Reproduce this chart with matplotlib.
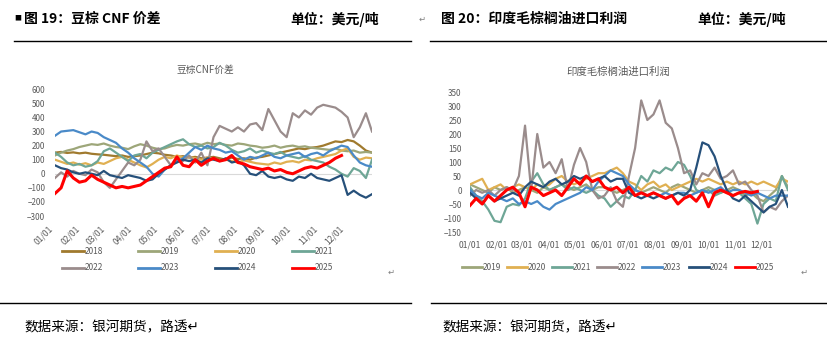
import numpy as np
import matplotlib
matplotlib.use('Agg')
import matplotlib.pyplot as plt
from matplotlib.lines import Line2D

plt.rcParams['font.family'] = ['Noto Sans CJK SC', 'DejaVu Sans']

W, H = 828, 353

# day-of-year grid (weekly readings)
days = np.arange(0, 365, 7)
days_2025 = np.arange(0, 335, 7)

month_ticks = [0, 31, 59, 90, 120, 151, 181, 212, 243, 273, 304, 334]
month_labels = ['01/01', '02/01', '03/01', '04/01', '05/01', '06/01',
                '07/01', '08/01', '09/01', '10/01', '11/01', '12/01']

# ---- 豆棕CNF价差 ----
cnf_2018 = [150, 155, 148, 152, 145, 150, 142, 138, 135, 130, 125, 130, 120,
            125, 130, 140, 150, 145, 135, 130, 120, 125, 115, 120, 110, 115,
            120, 110, 100, 115, 105, 110, 100, 115, 120, 130, 140, 150, 160,
            170, 180, 175, 185, 190, 200, 215, 230, 225, 240, 230, 200, 165, 150]
cnf_2019 = [130, 150, 165, 175, 190, 200, 210, 205, 215, 200, 190, 185, 175,
            195, 210, 200, 185, 175, 180, 195, 205, 200, 210, 215, 205, 220,
            210, 215, 205, 200, 215, 210, 200, 195, 185, 190, 200, 185, 195,
            200, 190, 195, 185, 180, 175, 170, 180, 165, 160, 165, 150, 155, 150]
cnf_2020 = [100, 85, 70, 80, 65, 75, 60, 80, 70, 90, 110, 120, 100,
            80, 60, 45, 70, 100, 120, 110, 130, 115, 120, 110, 100, 115,
            105, 95, 100, 90, 80, 95, 85, 75, 70, 65, 80, 70, 85,
            90, 80, 100, 95, 110, 120, 130, 140, 165, 180, 120, 100, 115, 110]
cnf_2021 = [150, 120, 80, 60, 70, 50, 60, 90, 160, 180, 150, 120, 90,
            130, 140, 110, 150, 170, 190, 210, 230, 245, 210, 190, 200, 180,
            190, 220, 200, 170, 150, 160, 180, 150, 165, 150, 140, 155, 130,
            120, 110, 125, 100, 90, 80, 50, 30, 0, -20, 40, 20, -30, 100]
cnf_2022 = [-30, 10, -20, 20, 0, -10, 30, 10, -60, -100, -40, 20, 80,
            60, 100, 230, 160, 180, 120, 60, 100, 90, 130, 80, 150, 60,
            260, 340, 320, 300, 330, 300, 350, 360, 310, 460, 380, 300, 260,
            430, 400, 450, 420, 470, 490, 480, 470, 440, 400, 260, 330, 430, 300]
cnf_2023 = [270, 300, 305, 310, 295, 280, 300, 290, 260, 240, 220, 180, 150,
            110, 80, 50, 0, -20, 30, 60, 90, 110, 150, 190, 170, 200,
            180, 170, 150, 160, 130, 100, 120, 110, 130, 150, 120, 110, 130,
            140, 150, 120, 140, 150, 130, 160, 180, 200, 190, 130, 80, 60, 50]
cnf_2024 = [60, 40, 30, 10, 0, 10, 0, -10, 20, -10, -20, -30, -10,
            -20, -30, -50, -40, 0, 30, 60, 80, 100, 90, 100, 80, 110,
            100, 90, 110, 80, 90, 60, 0, -10, 20, -20, -30, -20, -40,
            -50, -20, -30, 0, -30, -40, -50, -30, -10, -150, -120, -150, -170, -145]
cnf_2025 = [-140, -100, 20, -30, -60, -50, -10, -40, -60, -80, -100, -90, -100,
            -90, -80, -50, -20, 10, 40, 50, 120, 60, 50, 100, 60, 90,
            110, 90, 100, 130, 80, 70, 50, 40, 30, 40, 20, 30, 10,
            0, 20, 40, 50, 40, 60, 80, 110, 130]

# ---- 印度毛棕榈油进口利润 ----
imp_2019 = [20, 10, 0, -10, 10, 0, 10, -10, 0, 10, 0, -10, 10,
            0, 10, 20, 10, 0, 10, 20, 0, 10, 10, 0, -10, 0,
            10, 0, -10, 0, 10, 0, -10, 10, 20, 10, 0, -10, 0,
            10, 0, -10, 0, 10, 0, -20, -10, -30, -40, -20, 0, 50, 10]
imp_2020 = [20, 30, 40, 0, 10, 20, 0, 10, 20, 10, 0, 20, 10,
            20, 40, 50, 30, 20, 30, 40, 50, 60, 60, 70, 80, 60,
            30, 20, 0, 20, 30, 10, 20, 0, 10, 20, 30, 40, 30,
            40, 30, 20, 30, 20, 30, 20, 30, 20, 30, 20, 10, 40, 30]
imp_2021 = [10, -20, -40, -70, -110, -115, -60, -50, -55, -30, 30, 60, 20,
            0, 10, 20, 0, 10, 0, -10, 0, -20, -30, -60, -40, -20,
            -30, 0, 50, 30, 70, 60, 80, 70, 100, 90, 50, 0, -10,
            0, -20, -10, 0, -20, -10, -30, -50, -120, -50, -30, -40, 50, 0]
imp_2022 = [-20, 0, -10, 0, -20, 0, 10, 0, 50, 230, 0, 200, 80,
            100, 60, 110, 0, 90, 150, 100, 0, -30, -20, 10, -40, -60,
            50, 150, 320, 250, 270, 320, 240, 220, 150, 60, 70, 20, 60,
            50, 80, 40, 50, 70, 20, 30, 0, -20, -80, -60, -70, -40, -20]
imp_2023 = [0, -20, -30, -10, -20, -30, -40, -30, -50, -40, -50, -40, -60,
            -70, -50, -40, -30, -20, -10, 10, 0, 30, 50, 70, 60, 50,
            20, 0, -10, -20, -10, -20, -10, -20, -10, -10, -20, -10, 0,
            -10, 0, 10, -10, 0, 0, -10, -20, -10, -20, -30, -20, -20, -20]
imp_2024 = [-10, -30, -50, -20, -40, -30, -20, -10, -20, 10, 30, 20, 10,
            30, 40, 20, 30, 50, 40, 50, 30, 40, 50, 30, 40, 40,
            -10, -20, -30, -20, -30, -20, -30, -20, -10, -20, 0, 80, 170,
            160, 120, 50, 0, -30, -40, -20, -40, -60, -80, -60, -50, 0, -60]
imp_2025 = [-55, -30, -50, -20, -40, -20, 0, 10, -10, -60, 10, 0, -20,
            -10, 0, -20, 10, 40, 20, 50, 30, 40, 10, 0, 10, -10,
            10, -20, -10, -20, -10, -20, -30, -20, -50, -30, -20, -40, -10,
            -60, -10, 0, -10, -20, -10, -5, -10, -5]

colors = {'2018': '#A07A2E', '2019': '#9DA679', '2020': '#E0B052',
          '2021': '#6EA696', '2022': '#9A8C8C', '2023': '#4A8AC8',
          '2024': '#26507A', '2025': '#FF0000'}

cnf = [('2018', cnf_2018), ('2019', cnf_2019), ('2020', cnf_2020),
       ('2021', cnf_2021), ('2022', cnf_2022), ('2023', cnf_2023),
       ('2024', cnf_2024), ('2025', cnf_2025)]
imp = [('2019', imp_2019), ('2020', imp_2020), ('2021', imp_2021),
       ('2022', imp_2022), ('2023', imp_2023), ('2024', imp_2024),
       ('2025', imp_2025)]

grey = '#595959'


def fx(x):
    return x / W


def fy(y):
    return 1 - y / H


def style_axes(ax):
    for s in ax.spines.values():
        s.set_visible(False)
    ax.tick_params(length=0, labelsize=5.8, labelcolor=grey)
    ax.axhline(0, color='#D9D9D9', lw=0.8, zorder=0)
    ax.set_xlim(0, 364)
    ax.set_xticks(month_ticks)


fig = plt.figure(figsize=(W / 100, H / 100), dpi=100)

# left chart
ax1 = fig.add_axes([fx(55), fy(216), fx(317), (216 - 89.3) / H])
for yr, vals in cnf:
    x = days_2025 if yr == '2025' else days
    ax1.plot(x, vals, color=colors[yr], lw=2.2 if yr == '2025' else 1.6)
style_axes(ax1)
ax1.set_ylim(-300, 600)
ax1.set_yticks(range(-300, 601, 100))
ax1.tick_params(axis='y', pad=7)
ax1.set_xticklabels(month_labels, rotation=45, ha='right')
ax1.tick_params(axis='x', pad=6, labelsize=6.2)
fig.text(fx(205), fy(70), '豆棕CNF价差', fontsize=7, color=grey, ha='center', va='center')

# right chart
ax2 = fig.add_axes([fx(470), fy(232), fx(318), 140 / H])
for yr, vals in imp:
    x = days_2025 if yr == '2025' else days
    ax2.plot(x, vals, color=colors[yr], lw=2.2 if yr == '2025' else 1.6)
style_axes(ax2)
ax2.set_ylim(-150, 350)
ax2.set_yticks(range(-150, 351, 50))
ax2.tick_params(axis='y', pad=6)
ax2.set_xticklabels(month_labels)
ax2.tick_params(axis='x', pad=6, labelsize=6.2)
fig.text(fx(618), fy(72), '印度毛棕榈油进口利润', fontsize=7.5, color=grey, ha='center', va='center')


def legend_item(x, y, yr, length):
    fig.add_artist(Line2D([fx(x), fx(x + length)], [fy(y), fy(y)],
                          color=colors[yr], lw=2))
    fig.text(fx(x + length + 1), fy(y), yr, fontsize=6, color=grey, va='center')


for i, (yr, _) in enumerate(cnf):
    legend_item([62, 138, 215, 292][i % 4], 251 if i < 4 else 268, yr, 22)
for i, (yr, _) in enumerate(imp):
    legend_item([462, 507, 552, 597, 642, 689, 735][i], 267, yr, 20)

# headers and rules
fig.text(fx(14), fy(18), '■', fontsize=5, va='center')
fig.text(fx(24), fy(19), '图 19：豆棕 CNF 价差', fontsize=10, fontweight='bold', va='center')
fig.text(fx(290), fy(19), '单位：美元/吨', fontsize=10, fontweight='bold', va='center')
fig.text(fx(419), fy(19), '↵', fontsize=6, color='#7F7F7F', va='center')
fig.text(fx(441), fy(19), '图 20：印度毛棕榈油进口利润', fontsize=10, fontweight='bold', va='center')
fig.text(fx(697), fy(19), '单位：美元/吨', fontsize=10, fontweight='bold', va='center')

for x0, x1 in [(14, 411), (430, 828)]:
    fig.add_artist(Line2D([fx(x0), fx(x1)], [fy(41), fy(41)], color='black', lw=1))
for x0, x1 in [(0, 411), (431, 828)]:
    fig.add_artist(Line2D([fx(x0), fx(x1)], [fy(302.5), fy(302.5)], color='black', lw=1))

fig.text(fx(388), fy(272), '↵', fontsize=6, color='#7F7F7F', va='center')
fig.text(fx(801), fy(272), '↵', fontsize=6, color='#7F7F7F', va='center')
fig.text(fx(24), fy(327), '数据来源：银河期货，路透↵', fontsize=9.8, va='center')
fig.text(fx(442), fy(327), '数据来源：银河期货，路透↵', fontsize=9.8, va='center')

fig.savefig('out.png', dpi=100)
